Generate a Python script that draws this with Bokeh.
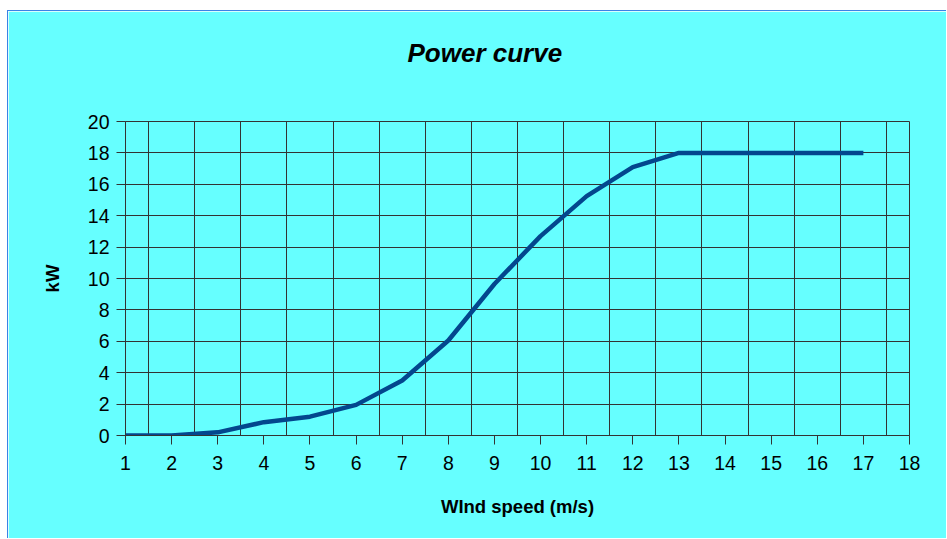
from bokeh.plotting import figure
from bokeh.models import Range1d, FixedTicker, Title
from bokeh.embed import file_html
from bokeh.resources import INLINE

# Data
wind_speed = list(range(1, 18))
power_kw = [0, 0, 0.2, 0.85, 1.2, 1.95, 3.5, 6.05, 9.65, 12.7, 15.25, 17.1, 18, 18, 18, 18, 18]
x_ticks = list(range(1, 19))
y_ticks = list(range(0, 21, 2))
x_grid = [v + 0.5 for v in range(1, 18)]
title_text = "Power curve"

BG = "#66FFFF"
GRID = "#333333"
FONT = "Liberation Sans"

p = figure(width=939, height=528, output_backend="svg", toolbar_location=None,
           x_range=Range1d(1, 18), y_range=Range1d(0, 20),
           min_border_left=117, min_border_right=38, min_border_top=110, min_border_bottom=104)

p.styles = {"margin-left": "7px", "margin-top": "10px",
            "border-left": "1px solid #3B82E6", "border-top": "1px solid #3B82E6"}

p.background_fill_color = BG
p.border_fill_color = BG
p.outline_line_color = GRID
p.outline_line_width = 1

p.title.text = title_text
p.title.text_font = FONT
p.title.text_font_size = "26px"
p.title.text_font_style = "bold italic"
p.title.text_color = "black"
p.title.align = "left"
p.title.offset = 282
p.title.standoff = 0

# spacer slot between the title and the frame so the title sits higher
p.add_layout(Title(text=" ", text_font_size="10px", standoff=41), "above")

p.line(wind_speed, power_kw, line_color="#03478E", line_width=4.5)

p.xaxis.ticker = FixedTicker(ticks=x_ticks)
p.yaxis.ticker = FixedTicker(ticks=y_ticks)
p.xgrid.ticker = FixedTicker(ticks=x_grid)
p.ygrid.ticker = FixedTicker(ticks=y_ticks)
p.xaxis.minor_tick_line_color = None
p.yaxis.minor_tick_line_color = None

for ax in (p.xaxis, p.yaxis):
    ax.axis_line_color = GRID
    ax.major_tick_line_color = GRID
    ax.major_tick_in = 0
    ax.major_tick_out = 9
    ax.major_label_text_font = FONT
    ax.major_label_text_font_size = "19.5px"
    ax.major_label_text_color = "black"
    ax.axis_label_text_font = FONT
    ax.axis_label_text_font_size = "18.5px"
    ax.axis_label_text_font_style = "bold"
    ax.axis_label_text_color = "black"

p.xaxis.axis_label = "WInd speed (m/s)"
p.yaxis.axis_label = "kW"
p.xaxis.major_label_standoff = 11
p.yaxis.major_label_standoff = 7
p.xaxis.axis_label_standoff = 23
p.yaxis.axis_label_standoff = 22

for g in (p.xgrid, p.ygrid):
    g.grid_line_color = GRID
    g.grid_line_width = 1
    g.grid_line_alpha = 1.0

open("out.html", "w").write(file_html(p, INLINE))
